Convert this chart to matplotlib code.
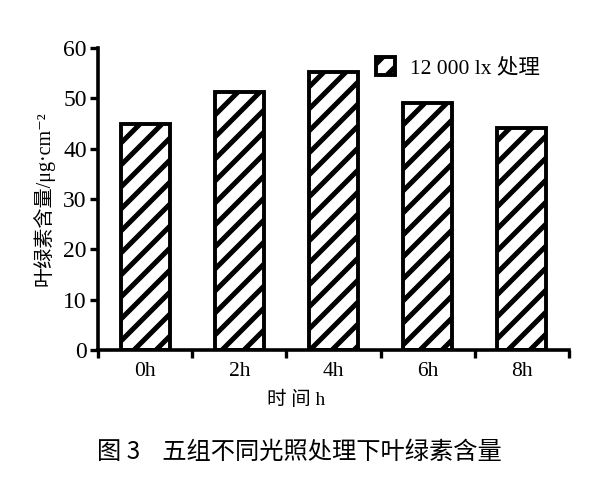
import numpy as np
import matplotlib.pyplot as plt

DPI = 132          # chosen so that the '//' hatch spacing matches the scan
S = 100.0 / DPI    # point sizes below were tuned at 100 dpi

plt.rcParams['font.family'] = ['Liberation Serif', 'Noto Sans CJK SC', 'DejaVu Sans']
plt.rcParams['hatch.linewidth'] = 3.6 * S

# Data
categories = ['0h', '2h', '4h', '6h', '8h']
chlorophyll = [45.0, 51.3, 55.3, 49.0, 44.1]
y_ticks = [0, 10, 20, 30, 40, 50, 60]

fig = plt.figure(figsize=(596 / DPI, 488 / DPI), dpi=DPI)
ax = fig.add_axes([0.1644, 0.2828, 0.7903, 0.6188])

x = np.arange(len(categories)) + 0.5
ax.bar(x, chlorophyll, width=0.52, color='white', edgecolor='black',
       linewidth=2.8 * S, hatch='//', label='12 000 lx 处理')

ax.set_xlim(0, len(categories))
ax.set_ylim(0, 60)
ax.set_yticks(y_ticks)
ax.set_xticks(np.arange(len(categories) + 1))
ax.set_xticklabels([])
ax.set_xticks(x, minor=True)
ax.set_xticklabels(categories, minor=True, fontsize=15.5 * S)
ax.tick_params(axis='x', which='minor', length=0, pad=9 * S)
ax.tick_params(axis='x', which='major', direction='out', length=6 * S, width=2.4 * S)
ax.tick_params(axis='y', direction='out', length=6 * S, width=2.4 * S,
               labelsize=17 * S, pad=2 * S)

for s in ['top', 'right']:
    ax.spines[s].set_visible(False)
for s in ['left', 'bottom']:
    ax.spines[s].set_linewidth(2.6 * S)

ax.set_ylabel('叶绿素含量/μg·cm⁻²', fontsize=14.5 * S)
ax.yaxis.set_label_coords(-0.092, 0.5)
ax.set_xlabel('时 间 h', fontsize=14 * S)
ax.xaxis.set_label_coords(0.42, -0.135)

leg = ax.legend(loc='upper right', bbox_to_anchor=(0.98, 1.035), frameon=False,
                fontsize=15.5 * S, handlelength=0.9, handleheight=0.9, handletextpad=0.7)

fig.text(0.503, 0.074, '图 3    五组不同光照处理下叶绿素含量', ha='center', va='center',
         fontsize=17.5 * S, family=['Noto Sans CJK SC'], fontweight='medium')

plt.savefig('out.png', dpi=DPI)
